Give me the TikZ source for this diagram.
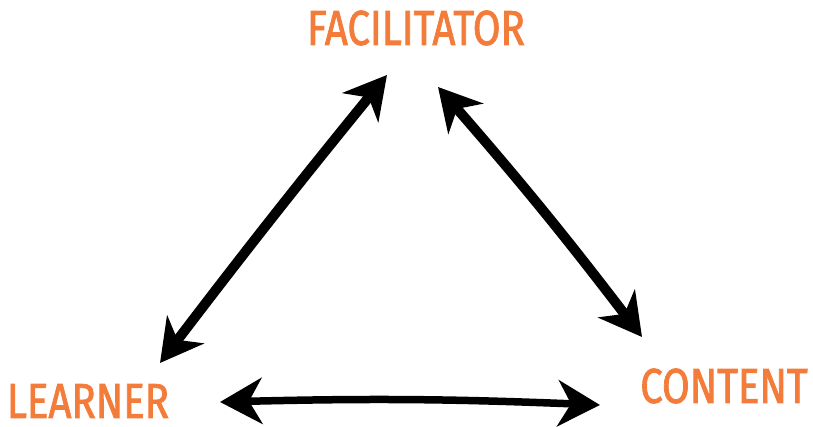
\documentclass[tikz,border=0pt]{standalone}
\usepackage{fontspec}
\newfontfamily\labelfont[FakeStretch=0.82,FakeBold=1.6]{Fira Sans}
\usetikzlibrary{positioning,arrows.meta,bending}
\definecolor{labelorange}{RGB}{244,124,58}
\tikzset{
  corner/.style={text=labelorange,font=\labelfont\fontsize{49}{50}\selectfont,inner sep=0pt},
  twoway/.style={line width=10pt,line cap=round,{Stealth[length=42pt,width=46pt,inset=13pt]}-{Stealth[length=42pt,width=46pt,inset=13pt]}}
}
\begin{document}
\begin{tikzpicture}[x=1pt,y=1pt]
	\useasboundingbox (0,0) rectangle (813,426);
		\node[corner] (facilitator) at (416,398) {FACILITATOR};
		\node[corner] (learner) at (88,25) {LEARNER};
		\node[corner] (content) at (724,40) {CONTENT};
		
		\coordinate (fl) at (387,351);
		\coordinate (fc) at (438,339);
		\coordinate (lf) at (160,63);
		\coordinate (lc) at (220,24);
		\coordinate (cf) at (642,89);
		\coordinate (cl) at (600,21);
		
		\draw[twoway] (lf) to[bend left=1] (fl);
		\draw[twoway] (fc) to[bend left=2] (cf);
		\draw[twoway,line width=7.5pt] (lc) to[bend left=2] (cl);
	\end{tikzpicture}
\end{document}
